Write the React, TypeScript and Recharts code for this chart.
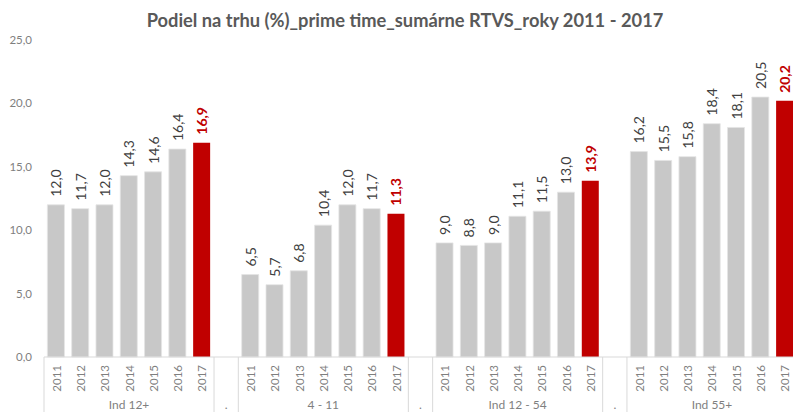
import React from 'react';
import { BarChart, Bar, XAxis, YAxis, LabelList } from 'recharts';

const years = ['2011', '2012', '2013', '2014', '2015', '2016', '2017'];
const groups = ['Ind 12+', '4 - 11', 'Ind 12 - 54', 'Ind 55+'];
const ind12plus = [12.0, 11.7, 12.0, 14.3, 14.6, 16.4, 16.9];
const ind4to11 = [6.5, 5.7, 6.8, 10.4, 12.0, 11.7, 11.3];
const ind12to54 = [9.0, 8.8, 9.0, 11.1, 11.5, 13.0, 13.9];
const ind55plus = [16.2, 15.5, 15.8, 18.4, 18.1, 20.5, 20.2];
const yTicks = [0, 5, 10, 15, 20, 25];
const title = 'Podiel na trhu (%)_prime time_sumárne RTVS_roky 2011 - 2017';

const seriesByGroup = [ind12plus, ind4to11, ind12to54, ind55plus];
const LAST = years.length - 1;

type Row = { key: string; year: string; group: string; past?: number; latest?: number; pos: number; sep: boolean };
const rows: Row[] = [];
groups.forEach((g, gi) => {
  years.forEach((y, yi) => {
    const v = seriesByGroup[gi][yi];
    rows.push({
      key: g + '|' + y, year: y, group: g,
      past: yi === LAST ? undefined : v,
      latest: yi === LAST ? v : undefined,
      pos: yi, sep: false,
    });
  });
  if (gi < groups.length - 1) {
    rows.push({ key: 'sep' + gi, year: '', group: '.', pos: -1, sep: true });
  }
});

const W = 800;
const H = 412;
const M = { top: 40, right: 3, left: 8, bottom: 0 };
const YW = 36;
const XH = 55;
const PLOT_W = W - M.left - M.right - YW;
const BW = PLOT_W / rows.length;
const FONT = 'Lato, "Open Sans", sans-serif';
const GRAY = '#c8c8c8';
const RED = '#c00000';
const AXIS = '#d9d9d9';
const fmt = (v: number) => v.toFixed(1).replace('.', ',');

const XTick = (props: any) => {
  const { x, y, index } = props;
  const row = rows[index];
  if (!row) return null;
  const bottom = y + XH;
  const els: any[] = [];
  if (!row.sep) {
    els.push(
      <text key="y" x={x} y={y + 8} transform={`rotate(-90, ${x}, ${y + 8})`} textAnchor="end" dominantBaseline="central"
        fontSize={11.5} fill="#7f7f7f" fontFamily={FONT}>{row.year}</text>
    );
    if (row.pos === 0) {
      els.push(<line key="l" x1={x - BW / 2} x2={x - BW / 2} y1={y} y2={bottom} stroke={AXIS} strokeWidth={1} />);
    }
    if (row.pos === LAST) {
      els.push(<line key="r" x1={x + BW / 2} x2={x + BW / 2} y1={y} y2={bottom} stroke={AXIS} strokeWidth={1} />);
    }
    if (row.pos === 3) {
      els.push(<text key="g" x={x} y={y + 52} textAnchor="middle" fontSize={12} fill="#7f7f7f" fontFamily={FONT}>{row.group}</text>);
    }
  } else {
    els.push(<text key="g" x={x} y={y + 52} textAnchor="middle" fontSize={12} fill="#7f7f7f" fontFamily={FONT}>{row.group}</text>);
  }
  return <g>{els}</g>;
};

const makeLabel = (color: string, weight: number) => (props: any) => {
  const { x, y, width, value } = props;
  if (value === undefined || value === null || Number.isNaN(Number(value))) return null;
  const cx = x + width / 2;
  const ty = y - 8;
  return (
    <text x={cx} y={ty} transform={`rotate(-90, ${cx}, ${ty})`} textAnchor="start" dominantBaseline="central"
      fontSize={14} fontWeight={weight} fill={color} fontFamily={FONT}>
      {fmt(Number(value))}
    </text>
  );
};
const PastLabel = makeLabel('#404040', 400);
const LatestLabel = makeLabel(RED, 700);

export default function App() {
  return (
    <div style={{ position: 'fixed', left: 0, top: 0, width: 793, height: 412, overflow: 'hidden', background: '#fff' }}>
      <BarChart width={W} height={H} data={rows} margin={M} barCategoryGap="14%">
        <YAxis width={YW} domain={[0, 25]} ticks={yTicks} tickFormatter={fmt} axisLine={false} tickLine={false}
          tickMargin={6} tick={{ fontSize: 11.5, fill: '#7f7f7f', fontFamily: FONT }} />
        <XAxis dataKey="key" interval={0} height={XH} tickLine={false} tickSize={0} tickMargin={0}
          axisLine={{ stroke: AXIS }} tick={<XTick />} />
        <Bar dataKey="past" stackId="s" isAnimationActive={false} fill={GRAY} stroke="#e4e4e4" strokeWidth={0.8}>
          <LabelList dataKey="past" content={<PastLabel />} />
        </Bar>
        <Bar dataKey="latest" stackId="s" isAnimationActive={false} fill={RED}>
          <LabelList dataKey="latest" content={<LatestLabel />} />
        </Bar>
      </BarChart>
      <svg style={{ position: 'absolute', left: 0, top: 0, pointerEvents: 'none' }} width={793} height={40}>
        <text x={405} y={27} textAnchor="middle" fontSize={18.3} fontWeight={700} fill="#595959" fontFamily={FONT}>{title}</text>
      </svg>
    </div>
  );
}
